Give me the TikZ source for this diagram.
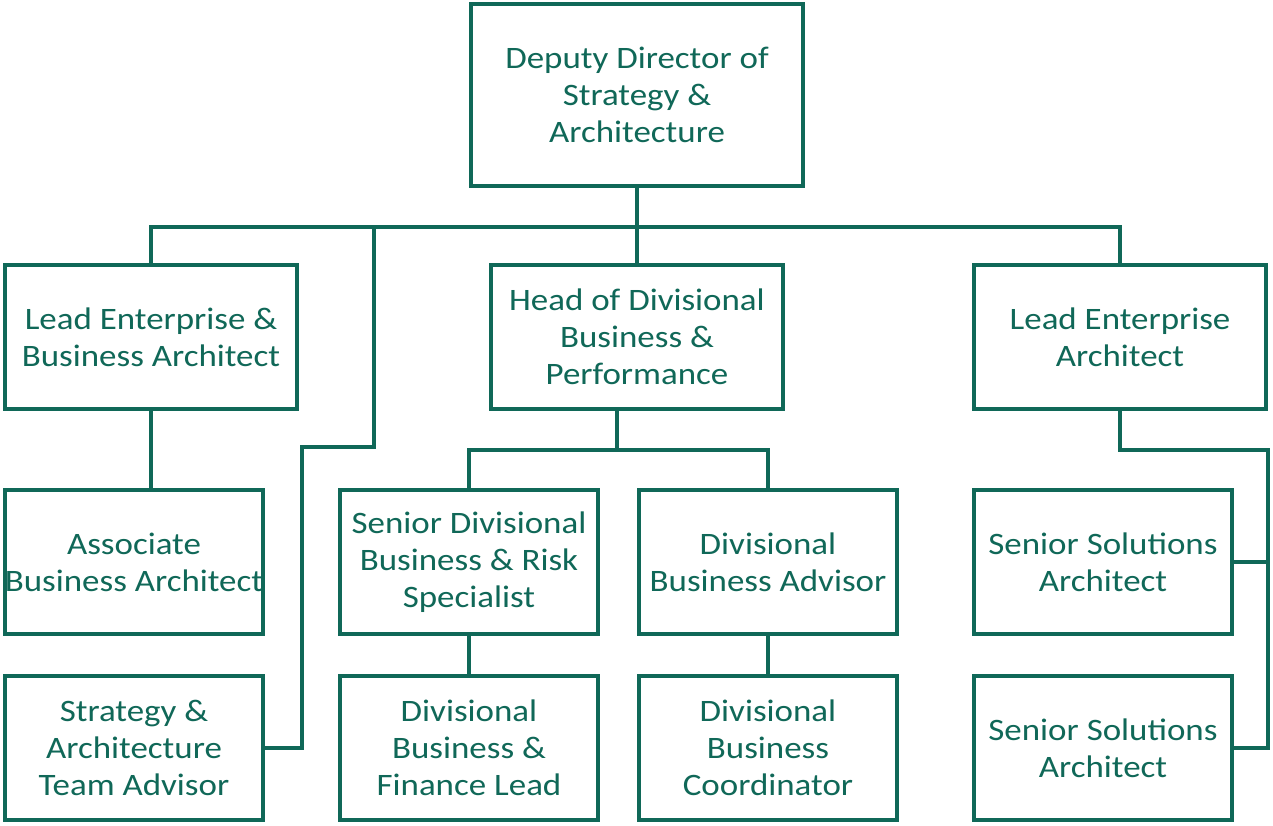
\documentclass[tikz,border=0pt]{standalone}
\usepackage{fontspec}
\setmainfont{Carlito}[FakeStretch=1.12]
\definecolor{orgteal}{RGB}{16,104,88}
\tikzset{
    post/.style={draw=orgteal, line width=2.3pt, fill=white, text=orgteal,
        align=center, font=\fontsize{15.6}{18.5}\selectfont, inner sep=0pt},
    bigpost/.style={post, minimum width=146pt, minimum height=72pt},
    smallpost/.style={post, minimum width=129pt, minimum height=72pt},
    link/.style={draw=orgteal, line width=2.2pt},
}
\begin{document}
\begin{tikzpicture}[x=0.5pt, y=-0.5pt]
    \useasboundingbox (0,0) rectangle (1273,825);

    % top of the chart
    \node[post, minimum width=166pt, minimum height=91pt] (deputy) at (637,95)
        {Deputy Director of\\Strategy \&\\Architecture};

    % second row
    \node[bigpost] (leadeba) at (151,337) {Lead Enterprise \&\\Business Architect};
    \node[bigpost] (headdbp) at (637,337) {Head of Divisional\\Business \&\\Performance};
    \node[bigpost] (leadea) at (1120,337) {Lead Enterprise\\Architect};

    % third row
    \node[smallpost] (assocba) at (134,562) {Associate\\Business Architect};
    \node[smallpost] (seniordbr) at (469,562) {Senior Divisional\\Business \& Risk\\Specialist};
    \node[smallpost] (divadvisor) at (768,562) {Divisional\\Business Advisor};
    \node[smallpost] (ssaone) at (1103,562) {Senior Solutions\\Architect};

    % bottom row
    \node[smallpost] (teamadvisor) at (134,748) {Strategy \&\\Architecture\\Team Advisor};
    \node[smallpost] (divfinance) at (469,748) {Divisional\\Business \&\\Finance Lead};
    \node[smallpost] (divcoord) at (768,748) {Divisional\\Business\\Coordinator};
    \node[smallpost] (ssatwo) at (1103,748) {Senior Solutions\\Architect};

    % connectors
    \coordinate (bus) at (637,227);
    \coordinate (teambend) at (374,227);
    \draw[link] (deputy.south) -- (headdbp.north);
    \draw[link] (leadeba.north) |- (bus) -| (leadea.north);
    \draw[link] (teambend) -- (374,447) -- (302,447) |- (teamadvisor.east);
    \draw[link] (leadeba.south) -- (assocba.north -| leadeba.south);

    \draw[link] (headdbp.south -| 617,0) -- (617,450);
    \draw[link] (seniordbr.north) |- (617,450) -| (divadvisor.north);
    \draw[link] (seniordbr.south) -- (divfinance.north);
    \draw[link] (divadvisor.south) -- (divcoord.north);

    \draw[link] (leadea.south) |- (1268,450) |- (ssatwo.east);
    \draw[link] (ssaone.east) -- (ssaone.east -| 1268,0);
\end{tikzpicture}
\end{document}
